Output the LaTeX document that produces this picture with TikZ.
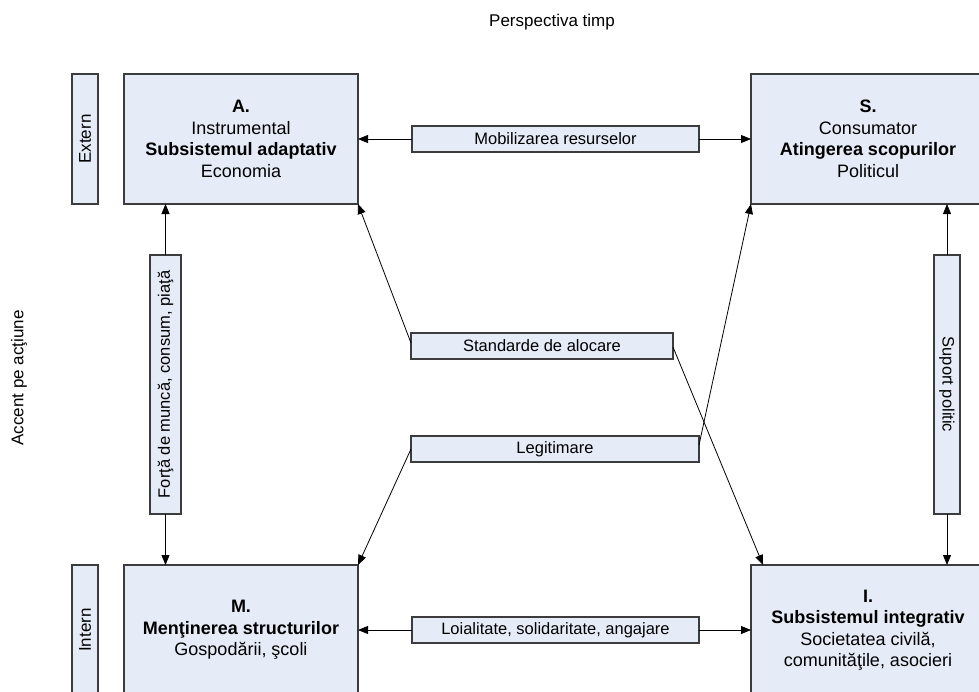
\documentclass[tikz,border=0pt]{standalone}
\usepackage{fontspec}
\setmainfont{Liberation Sans}
\usetikzlibrary{arrows.meta,calc}
\definecolor{boxfill}{RGB}{230,236,247}
\definecolor{boxline}{RGB}{60,60,60}
\begin{document}
\begin{tikzpicture}[x=1pt,y=-1pt,
  box/.style={draw=boxline,fill=boxfill,line width=1.3pt,outer sep=0pt,inner sep=0pt,
    minimum width=234pt,minimum height=130pt,align=center,
    font=\fontsize{18}{21.5}\selectfont},
  lbl/.style={draw=boxline,fill=boxfill,line width=1.1pt,outer sep=0pt,inner sep=0pt,
    minimum height=26pt,font=\fontsize{16.5}{19}\selectfont},
  vlbl/.style={draw=boxline,fill=boxfill,line width=1.1pt,outer sep=0pt,inner sep=0pt,
    minimum height=26pt,font=\fontsize{16.5}{19}\selectfont},
  side/.style={draw=boxline,fill=boxfill,line width=1.1pt,outer sep=0pt,inner sep=0pt,
    minimum height=26pt,font=\fontsize{17}{20}\selectfont},
  plain/.style={font=\fontsize{17}{20}\selectfont,inner sep=0pt},
  conn/.style={line width=0.8pt,-{Triangle[length=10pt,width=8pt]}}
]
\useasboundingbox (0,0) rectangle (979,691);
\clip (0,0) rectangle (979,691);

\node[plain] (pt) at (552,22) {Perspectiva timp};
\node[plain,rotate=90] (ac) at (19,378) {Accent pe acţiune};

\node[side,rotate=90,minimum width=130pt] (ext) at (85,139) {Extern};
\node[side,rotate=90,minimum width=130pt] (int) at (85,630) {Intern};

\node[box] (A) at (241,139) {\textbf{A.}\\Instrumental\\\textbf{Subsistemul adaptativ}\\Economia};
\node[box] (S) at (868,139) {\textbf{S.}\\Consumator\\\textbf{Atingerea scopurilor}\\Politicul};
\node[box] (M) at (241,630) {\textbf{M.}\\\textbf{Menţinerea structurilor}\\Gospodării, şcoli};
\node[box] (I) at (868,630) {\textbf{I.}\\\textbf{Subsistemul integrativ}\\Societatea civilă,\\comunităţile, asocieri};

\node[lbl,minimum width=287pt] (mob) at (555.5,139) {Mobilizarea resurselor};
\node[lbl,minimum width=287pt] (loi) at (555.5,630) {Loialitate, solidaritate, angajare};
\node[lbl,minimum width=262pt] (std) at (542,346) {Standarde de alocare};
\node[lbl,minimum width=288pt] (leg) at (555,449) {Legitimare};

\node[vlbl,rotate=90,minimum width=259pt,minimum height=31pt] (fm) at (165.5,384.5) {Forţă de muncă, consum, piaţă};
\node[vlbl,rotate=-90,minimum width=259pt] (sp) at (947,384.5) {Suport politic};

\draw[conn] (mob.west) -- (A.east |- mob.west);
\draw[conn] (mob.east) -- (S.west |- mob.east);
\draw[conn] (loi.west) -- (M.east |- loi.west);
\draw[conn] (loi.east) -- (I.west |- loi.east);

\draw[conn] (fm.east) -- (A.south -| fm.east);
\draw[conn] (fm.west) -- (M.north -| fm.west);
\draw[conn] (sp.west) -- (S.south -| sp.west);
\draw[conn] (sp.east) -- (I.north -| sp.east);

\draw[conn] ($(std.west)+(0,-3)$) -- (A.south east);
\draw[conn] ($(std.east)+(0,1)$) -- ($(I.north west)+(12,0)$);
\draw[conn] (leg.west) -- (M.north east);
\draw[conn] ($(leg.east)+(0,-4)$) -- (S.south west);
\end{tikzpicture}
\end{document}
